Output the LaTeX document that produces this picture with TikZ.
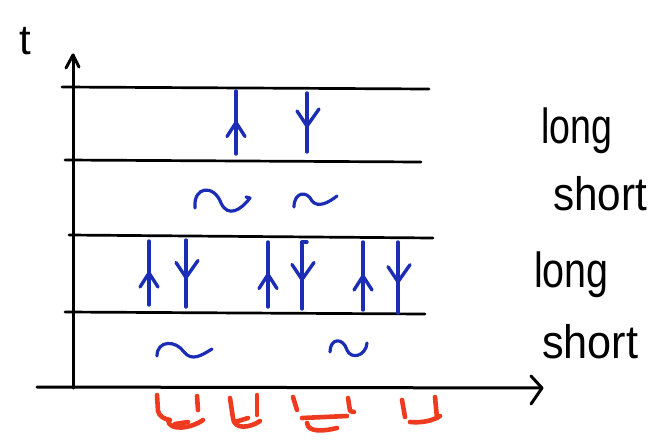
\documentclass[tikz,border=0pt]{standalone}
\usepackage{fontspec}
\setmainfont{Liberation Sans}
\usetikzlibrary{calc}
\definecolor{inkblue}{HTML}{1B2DB4}
\definecolor{inkred}{HTML}{EE3A1E}
\tikzset{
  axisline/.style={line width=3pt, line cap=round, line join=round},
  level/.style={line width=2.7pt, line cap=round},
  spin/.style={inkblue, line width=3.4pt, line cap=round, line join=round},
  wave/.style={inkblue, line width=3.2pt, line cap=round, line join=round},
  redmark/.style={inkred, line width=4.6pt, line cap=round, line join=round},
  bandlabel/.style={font=\fontsize{47}{47}\selectfont, anchor=base west, inner sep=0pt},
}
% up spin: vertical stroke with a chevron half-way
\newcommand{\spinup}[4]{% name, x, top, bottom
  \coordinate (#1t) at (#2,#3); \coordinate (#1b) at (#2,#4);
  \draw[spin] (#1b) -- (#1t);
  \draw[spin] ($(#1t)!0.5!(#1b)+(-9,14)$) -- ($(#1t)!0.5!(#1b)$) -- ($(#1t)!0.5!(#1b)+(9,14)$);}
% down spin: vertical stroke with a downward chevron
\newcommand{\spindown}[4]{%
  \coordinate (#1t) at (#2,#3); \coordinate (#1b) at (#2,#4);
  \draw[spin] (#1t) -- (#1b);
  \draw[spin] ($(#1t)!0.56!(#1b)+(-10,-15)$) -- ($(#1t)!0.56!(#1b)$) -- ($(#1t)!0.56!(#1b)+(12,-17)$);}
\begin{document}
\begin{tikzpicture}[x=1pt, y=-1pt]
\useasboundingbox (0,0) rectangle (653,439);

% axes
\coordinate (o) at (73,388);
\coordinate (ytop) at (73,55);
\coordinate (xl) at (37,387);
\coordinate (xr) at (542,388);
\draw[axisline] (o) -- (ytop);
\draw[axisline] (66,68) -- (ytop) -- (79,67);
\draw[axisline] (xl) -- (xr);
\draw[axisline] (531,376) -- (xr) -- (531,404);
\node[font=\fontsize{42}{42}\selectfont, inner sep=0pt] (tlab) at (25,41) {t};

% level boundaries
\coordinate (l1a) at (62,87);  \coordinate (l1b) at (429,89);
\coordinate (l2a) at (65,160); \coordinate (l2b) at (421,162);
\coordinate (l3a) at (69,235); \coordinate (l3b) at (433,238);
\coordinate (l4a) at (65,312); \coordinate (l4b) at (425,314);
\draw[level] (l1a) -- (l1b);
\draw[level] (l2a) -- (l2b);
\draw[level] (l3a) -- (l3b);
\draw[level] (l4a) -- (l4b);

% spins in the upper long band
\spinup{a}{236}{91}{154}
\spindown{b}{307}{93}{152}

% spins in the lower long band
\spinup{c}{149}{241}{305}
\spindown{d}{186}{240}{307}
\spinup{e}{268}{242}{307}
\spindown{f}{302}{242}{309}
\draw[spin] (ft) -- (307,242);
\spinup{g}{363}{242}{310}
\spindown{h}{398}{242}{313}

% wiggles in the short bands
\draw[wave] (195,208) .. controls (193,186) and (214,184) .. (221,203)
  .. controls (228,218) and (241,210) .. (250,198) -- (246,197);
\draw[wave] (294,207) .. controls (294,192) and (307,190) .. (312,201)
  .. controls (318,208) and (328,203) .. (337,196);
\draw[wave] (157,356) .. controls (157,340) and (176,340) .. (184,352)
  .. controls (192,362) and (202,355) .. (212,349);
\draw[wave] (330,352) .. controls (330,338) and (343,337) .. (347,350)
  .. controls (351,360) and (366,356) .. (367,343);

% band labels
\node[bandlabel] (long1)  at (541,143) {\scalebox{0.8}[1.05]{long}};
\node[bandlabel] (short1) at (553,210) {\scalebox{0.9}[1]{short}};
\node[bandlabel] (long2)  at (534,287) {\scalebox{0.84}[1.05]{long}};
\node[bandlabel] (short2) at (542,358) {\scalebox{0.92}[1]{short}};

% red marks under the axis
\draw[redmark] (157,395) -- (158,411) .. controls (159,416) and (164,419) .. (170,420);
\draw[redmark] (168,420) .. controls (169,432) and (192,428) .. (203,420);
\draw[redmark] (175,424) -- (188,422);
\draw[redmark] (197,396) -- (198,410);
\draw[redmark] (230,398) -- (233,418) .. controls (234,430) and (250,428) .. (260,421);
\draw[redmark] (235,422) -- (248,418);
\draw[redmark] (257,395) -- (257,415);
\draw[redmark] (293,397) -- (297,410);
\draw[redmark] (302,418) -- (347,416);
\draw[redmark] (307,423) .. controls (308,433) and (325,431) .. (337,428);
\draw[redmark] (348,398) -- (350,411) -- (354,412);
\draw[redmark] (402,400) -- (405,417);
\draw[redmark] (410,422) .. controls (422,423) and (432,421) .. (440,416);
\draw[redmark] (435,397) -- (437,418);
\end{tikzpicture}
\end{document}
